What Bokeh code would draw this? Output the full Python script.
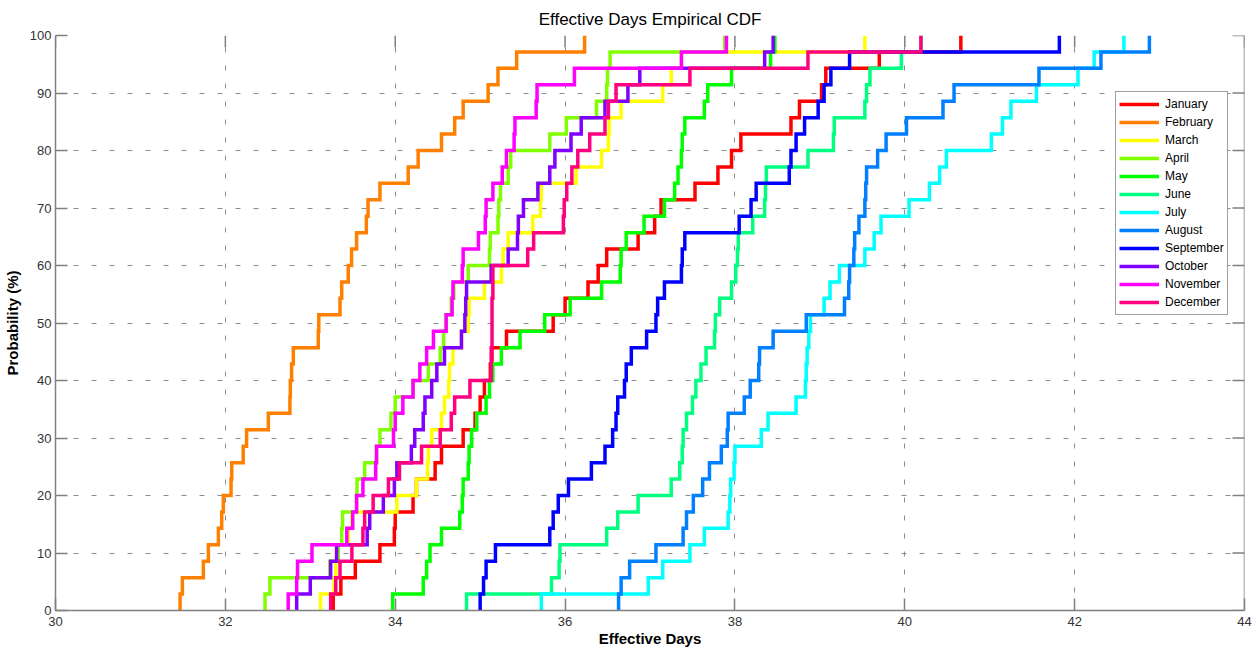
import math
from bokeh.plotting import figure
from bokeh.models import Range1d, FixedTicker, Legend, LegendItem, Span
from bokeh.embed import file_html
from bokeh.resources import INLINE

months = ["January", "February", "March", "April", "May", "June", "July",
          "August", "September", "October", "November", "December"]
colors = ["#FF0000", "#FF8000", "#FFFF00", "#80FF00", "#00FF00", "#00FF80",
          "#00FFFF", "#0080FF", "#0000FF", "#8000FF", "#FF00FF", "#FF0080"]

# Effective-day samples per month (35 each)
january = [33.27, 33.36, 33.53, 33.82, 33.99, 34.00, 34.21, 34.25, 34.47, 34.545,
           34.80, 34.94, 35.00, 35.05, 35.12, 35.14, 35.31, 35.86, 36.00, 36.27,
           36.39, 36.49, 36.86, 37.055, 37.13, 37.53, 37.80, 37.96, 38.07, 38.66,
           38.76, 39.02, 39.07, 39.70, 40.66]
february = [31.467, 31.494, 31.741, 31.80, 31.918, 31.957, 31.976, 32.067, 32.075, 32.21,
            32.25, 32.506, 32.76, 32.765, 32.78, 32.80, 33.094, 33.10, 33.35, 33.37,
            33.447, 33.486, 33.545, 33.66, 33.68, 33.82, 34.153, 34.27, 34.545, 34.70,
            34.80, 35.094, 35.21, 35.43, 36.23]
march = [33.12, 33.28, 33.30, 33.31, 33.45, 33.49, 34.02, 34.25, 34.38, 34.39,
         34.43, 34.545, 34.58, 34.63, 34.64, 34.68, 34.78, 34.86, 34.87, 35.05,
         35.25, 35.27, 35.33, 35.62, 35.71, 35.72, 36.13, 36.43, 36.51, 36.52,
         36.66, 37.15, 37.25, 37.37, 39.53]
april = [32.467, 32.525, 33.23, 33.33, 33.37, 33.38, 33.545, 33.55, 33.64, 33.78,
         33.82, 33.95, 34.00, 34.21, 34.39, 34.53, 34.57, 34.60, 34.66, 34.69,
         34.86, 35.11, 35.12, 35.21, 35.22, 35.24, 35.33, 35.36, 35.82, 36.015,
         36.37, 36.49, 36.50, 36.53, 37.88]
may = [33.97, 34.33, 34.37, 34.41, 34.545, 34.76, 34.79, 34.80, 34.86, 34.87,
       34.90, 34.96, 35.07, 35.11, 35.15, 35.25, 35.47, 35.76, 36.06, 36.43,
       36.65, 36.66, 36.72, 36.93, 37.17, 37.29, 37.33, 37.37, 37.38, 37.41,
       37.64, 37.68, 37.96, 38.42, 38.47]
june = [34.84, 35.84, 35.93, 35.94, 36.49, 36.62, 36.86, 37.25, 37.35, 37.38,
        37.39, 37.43, 37.50, 37.54, 37.60, 37.66, 37.76, 37.77, 37.82, 37.96,
        38.01, 38.03, 38.04, 38.21, 38.35, 38.36, 38.37, 38.86, 39.16, 39.17,
        39.53, 39.55, 39.59, 39.96, 40.19]
july = [35.72, 36.98, 37.15, 37.47, 37.64, 37.92, 37.94, 37.95, 37.99, 38.00,
        38.31, 38.39, 38.72, 38.83, 38.84, 38.85, 38.87, 38.89, 39.05, 39.12,
        39.23, 39.53, 39.64, 39.72, 40.05, 40.29, 40.41, 40.49, 41.02, 41.15,
        41.25, 41.55, 42.04, 42.23, 42.58]
august = [36.63, 36.66, 36.76, 37.07, 37.39, 37.43, 37.51, 37.62, 37.70, 37.84,
          37.91, 37.92, 38.11, 38.18, 38.28, 38.29, 38.45, 38.84, 39.29, 39.34,
          39.35, 39.40, 39.41, 39.46, 39.53, 39.54, 39.55, 39.68, 39.78, 40.02,
          40.45, 40.58, 41.58, 42.31, 42.88]
september = [35.00, 35.04, 35.07, 35.18, 35.82, 35.86, 35.92, 36.04, 36.31, 36.47,
             36.56, 36.60, 36.62, 36.70, 36.72, 36.78, 36.96, 37.07, 37.09, 37.17,
             37.37, 37.38, 37.41, 38.05, 38.19, 38.25, 38.64, 38.66, 38.72, 38.82,
             38.98, 39.05, 39.13, 39.35, 41.82]
october = [32.84, 33.00, 33.24, 33.31, 33.67, 33.70, 33.86, 33.99, 34.02, 34.19,
           34.23, 34.33, 34.35, 34.43, 34.49, 34.58, 34.78, 34.82, 34.83, 34.84,
           35.13, 35.33, 35.44, 35.45, 35.51, 35.68, 35.82, 35.88, 36.07, 36.19,
           36.47, 36.74, 36.88, 38.35, 38.45]
november = [32.74, 32.84, 32.85, 33.02, 33.43, 33.50, 33.545, 33.62, 33.77, 33.78,
            33.98, 34.00, 34.09, 34.21, 34.29, 34.37, 34.45, 34.60, 34.67, 34.68,
            34.79, 34.80, 34.98, 35.06, 35.07, 35.15, 35.26, 35.31, 35.40, 35.41,
            35.66, 35.67, 36.11, 37.37, 37.90]
december = [33.24, 33.30, 33.35, 33.49, 33.62, 33.64, 33.74, 33.92, 34.05, 34.31,
            34.53, 34.66, 34.70, 34.88, 35.13, 35.13, 35.14, 35.14, 35.14, 35.15,
            35.15, 35.56, 35.63, 35.98, 35.99, 36.02, 36.08, 36.15, 36.29, 36.47,
            36.51, 36.60, 37.47, 38.86, 40.19]

series = [january, february, march, april, may, june, july, august,
          september, october, november, december]

x_ticks = [30, 32, 34, 36, 38, 40, 42, 44]
y_ticks = [0, 10, 20, 30, 40, 50, 60, 70, 80, 90, 100]
x_min, x_max = 30, 44
y_min, y_max = 0, 100

FONT = "Liberation Sans"
AX = "#808080"

p = figure(frame_width=1189, frame_height=575,
           x_range=Range1d(x_min, x_max), y_range=Range1d(y_min, y_max),
           output_backend="svg", toolbar_location=None,
           min_border_left=49, min_border_top=28, min_border_right=10, min_border_bottom=39,
           title="Effective Days Empirical CDF")
p.outline_line_color = None
p.background_fill_color = "white"
p.border_fill_color = "white"

p.title.align = "center"
p.title.text_font = FONT
p.title.text_font_size = "17px"
p.title.text_font_style = "normal"
p.title.text_color = "#000000"
p.title.standoff = 14

p.xgrid.ticker = FixedTicker(ticks=x_ticks[1:-1])
p.ygrid.ticker = FixedTicker(ticks=y_ticks[1:-1])
for g in (p.xgrid[0], p.ygrid[0]):
    g.grid_line_color = "#8c8c8c"
    g.grid_line_width = 1
    g.grid_line_dash = "5 13"

renderers = []
for name, col, vals in zip(months, colors, series):
    n = len(vals)
    xs = [vals[0]] + list(vals)
    ys = [0.0] + [100.0 * (i + 1) / n for i in range(n)]
    r = p.step(x=xs, y=ys, mode="after", line_color=col, line_width=3.5,
               line_join="miter")
    renderers.append(r)

for ax, ticks in ((p.xaxis[0], x_ticks), (p.yaxis[0], y_ticks)):
    ax.ticker = FixedTicker(ticks=ticks)
    ax.axis_line_color = AX
    ax.axis_line_width = 1.5
    ax.major_tick_line_color = AX
    ax.major_tick_line_width = 1.5
    ax.major_tick_in = 12
    ax.major_tick_out = 0
    ax.minor_tick_line_color = None
    ax.major_label_text_font = FONT
    ax.major_label_text_font_size = "13px"
    ax.major_label_text_color = "#333333"
    ax.axis_label_text_font = FONT
    ax.axis_label_text_font_size = "15px"
    ax.axis_label_text_font_style = "bold"
    ax.axis_label_text_color = "#000000"

p.xaxis.axis_label = "Effective Days"
p.yaxis.axis_label = "Probability (%)"
p.xaxis.major_label_standoff = 6
p.xaxis.axis_label_standoff = 1
p.yaxis.major_label_standoff = 4
p.yaxis.axis_label_standoff = 6

# box edge on the right and inward tick marks on the top and right edges
p.add_layout(Span(location=x_max, dimension="height", line_color=AX, line_width=1.5))
p.ray(x=x_ticks, y=[y_max] * len(x_ticks), length=12, length_units="screen",
      angle=-math.pi / 2, line_color=AX, line_width=1.5)
p.ray(x=[x_max] * len(y_ticks), y=y_ticks, length=12, length_units="screen",
      angle=math.pi, line_color=AX, line_width=1.5)

legend = Legend(items=[LegendItem(label=m, renderers=[r]) for m, r in zip(months, renderers)],
                location=(1060, 295))
legend.margin = 0
legend.padding = 3
legend.spacing = 0
legend.glyph_height = 18
legend.label_height = 18
legend.glyph_width = 40
legend.label_standoff = 6
legend.label_text_font = FONT
legend.label_text_font_size = "12px"
legend.label_text_color = "#000000"
legend.border_line_color = "#404040"
legend.border_line_width = 1
legend.background_fill_color = "white"
legend.background_fill_alpha = 1.0
p.add_layout(legend)

open("out.html", "w").write(file_html(p, INLINE))
